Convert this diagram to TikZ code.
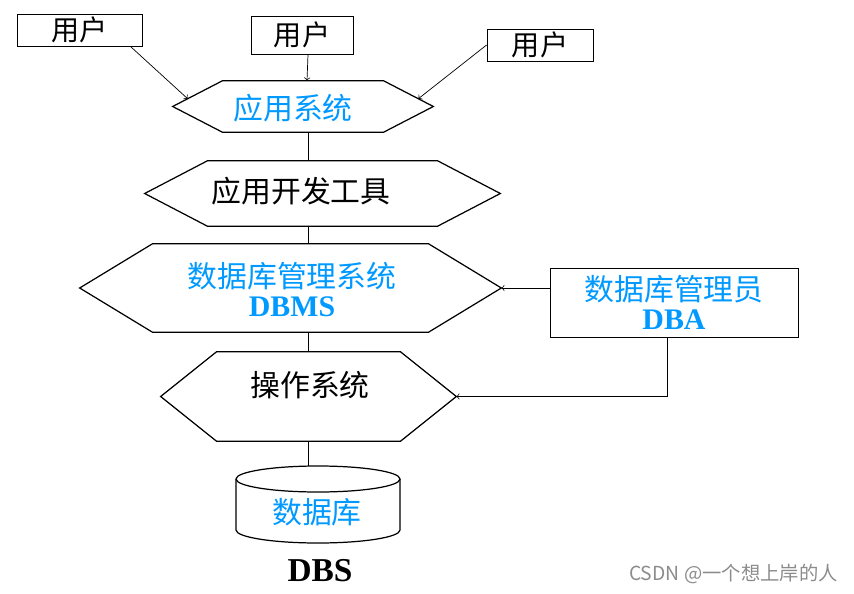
\documentclass[tikz,border=0pt]{standalone}
\usepackage{fontspec}
\setmainfont{Liberation Serif}
\newfontfamily\cjk{Noto Sans CJK SC}
\usetikzlibrary{calc}
\definecolor{dbblue}{RGB}{0,153,255}

\begin{document}
\begin{tikzpicture}[x=0.02cm,y=-0.02cm,
  userbox/.style={draw,line width=0.5pt,inner sep=0pt,font=\cjk\fontsize{16}{16}\selectfont},
  hexbody/.style={inner sep=0pt},
  hexline/.style={line width=0.7pt},
  arr/.style={->,line width=0.4pt},
  cn/.style={font=\cjk\fontsize{17}{17}\selectfont},
  twoline/.style={align=center,text=dbblue,font=\fontsize{17}{16.5}\selectfont}]
  \useasboundingbox (0,0) rectangle (854,594);

  % users
  \node[userbox,minimum width=2.5cm,minimum height=0.64cm] (u1) at (79.5,30) {用户};
  \node[userbox,minimum width=2.04cm,minimum height=0.76cm] (u2) at (302,35) {用户};
  \node[userbox,minimum width=2.12cm,minimum height=0.64cm] (u3) at (540,45) {用户};

  % hexagon bodies, the tips are added below
  \node[hexbody,minimum width=3.2cm,minimum height=1.02cm] (app) at (303,106.5) {};
  \node[hexbody,minimum width=4.58cm,minimum height=1.3cm] (tool) at (322.5,193.5) {};
  \node[hexbody,minimum width=5.5cm,minimum height=1.76cm] (dbms) at (290.5,288) {};
  \node[hexbody,minimum width=3.66cm,minimum height=1.78cm] (os) at (308.5,396.5) {};
  \foreach \n/\s in {app/50,tool/63,dbms/73,os/56}{% tips left and right
    \coordinate (\n-w) at ($(\n.west)+(-\s,0)$);
    \coordinate (\n-e) at ($(\n.east)+(\s,0)$);
    \draw[hexline] (\n.north west) -- (\n.north east) -- (\n-e) -- (\n.south east)
      -- (\n.south west) -- (\n-w) -- cycle;  }

  \node[cn,text=dbblue] (app-t) at (293,108) {应用系统};
  \node[cn] (tool-t) at (301,191) {应用开发工具};
  \node[twoline] (dbms-t) at (292,290) {{\cjk 数据库管理系统}\\{\bfseries DBMS}};
  \node[cn] (os-t) at (310,385) {操作系统};

  \node[userbox,twoline,minimum width=4.96cm,minimum height=1.38cm] (dba) at (674,302.5)
    {{\cjk 数据库管理员}\\{\bfseries DBA}};

  % database
  \coordinate (cyl-top) at (318,466);
  \draw[hexline] (236,479) -- (236,530) arc[start angle=180,end angle=0,x radius=82,y radius=13] -- (400,479);
  \draw[hexline] (318,479) ellipse[x radius=82,y radius=13];
  \node[cn,text=dbblue] (db) at (317,512) {数据库};
  \node[font=\bfseries\fontsize{19}{19}\selectfont] (dbs) at (320,571) {DBS};

  % connections
  \draw[arr] ($(u1.south east)+(-12,0)$) -- ($(app-w)!0.3!(app.north west)$);
  \draw[arr] ($(u2.south)+(6,0)$) -- ($(app.north)+(4,0)$);
  \draw[arr] (u3.west) -- ($(app.north east)!0.7!(app-e)$);
  \draw (app.south -| os) -- (tool.north -| os);
  \draw (tool.south -| os) -- (dbms.north -| os);
  \draw (dbms.south -| os) -- (os.north);
  \draw (os.south) -- (os.south |- cyl-top);
  \draw[arr] (dba.west |- dbms-e) -- (dbms-e);
  \draw[arr] ($(dba.south)+(-7,0)$) |- (os-e);

  \node[anchor=east,inner sep=0pt,text=black!45,font=\cjk\fontsize{11}{11}\selectfont] (mark) at (838,574)
    {CSDN @一个想上岸的人};
\end{tikzpicture}
\end{document}
